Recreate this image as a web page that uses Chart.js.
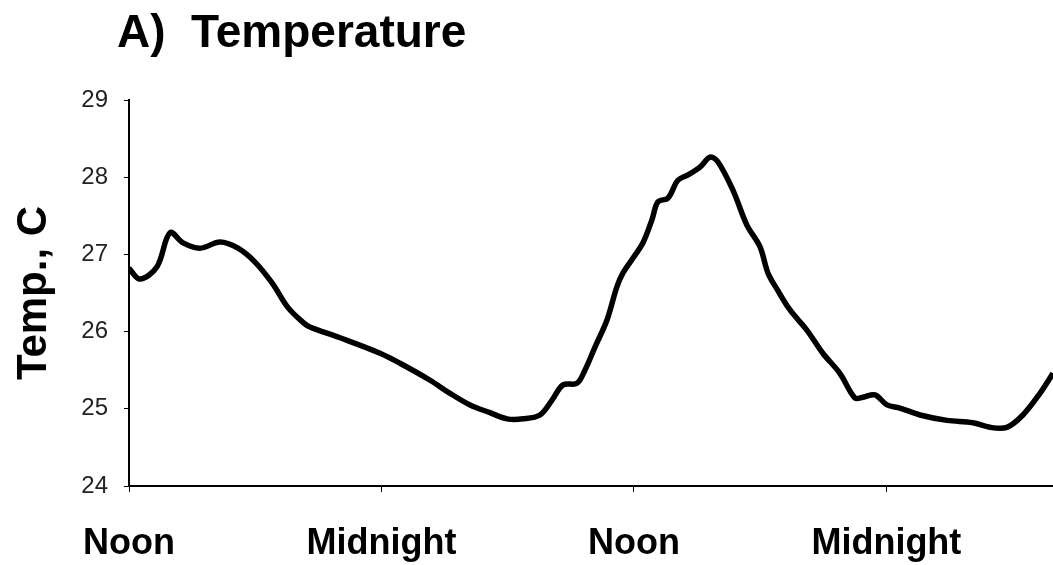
<!DOCTYPE html>
<html>
<head>
<meta charset="utf-8">
<script src="https://cdn.jsdelivr.net/npm/chart.js@4/dist/chart.umd.min.js"></script>
<style>
  html, body { margin: 0; padding: 0; background: #fff; }
  #wrap { width: 1053px; height: 565px; }
</style>
</head>
<body>
<div id="wrap"><canvas id="c" width="1053" height="565"></canvas></div>
<script>
// Hours elapsed since the first noon, and water temperature (°C) at each time
const hours = [0, 0.52, 1.33, 1.95, 2.57, 3.37, 4.33, 5.18, 5.99, 6.80, 7.56, 8.27, 8.60,
  10.03, 11.93, 12.88, 14.31, 15.26, 16.21, 17.16, 17.97, 18.73, 19.53, 20.10, 20.63,
  21.29, 21.67, 22.15, 22.72, 23.19, 23.48, 23.95, 24.43, 24.86, 25.14, 25.62, 26.09,
  26.57, 27.14, 27.62, 27.99, 28.71, 29.37, 29.99, 30.37, 30.80, 31.42, 32.22, 32.98,
  33.79, 34.51, 34.89, 35.46, 36.03, 36.64, 37.60, 38.88, 40.11, 40.92, 41.73, 42.49,
  43.30, 43.92];
const temps = [26.82, 26.68, 26.84, 27.28, 27.15, 27.08, 27.16, 27.08, 26.90, 26.63, 26.31, 26.12, 26.06,
  25.92, 25.72, 25.59, 25.37, 25.20, 25.05, 24.95, 24.87, 24.87, 24.92, 25.11, 25.31,
  25.33, 25.50, 25.80, 26.15, 26.58, 26.76, 26.95, 27.15, 27.45, 27.68, 27.73, 27.96,
  28.03, 28.13, 28.26, 28.20, 27.83, 27.38, 27.10, 26.76, 26.55, 26.28, 26.02, 25.72,
  25.46, 25.14, 25.15, 25.18, 25.05, 25.01, 24.92, 24.85, 24.82, 24.76, 24.76, 24.92,
  25.20, 25.46];

// Time-of-day ticks on the x axis
const tickHours = [0, 12, 24, 36];
const tickLabels = ['Noon', 'Midnight', 'Noon', 'Midnight'];

const chartTitle = 'A)  Temperature';
const yTitle = 'Temp., C';

const FONT = '"Liberation Sans", Arial, Helvetica, sans-serif';

// Panel heading drawn at the top-left of the canvas
const panelTitle = {
  id: 'panelTitle',
  afterDraw(chart) {
    const ctx = chart.ctx;
    ctx.save();
    ctx.fillStyle = '#000';
    ctx.font = 'bold 46px ' + FONT;
    ctx.textAlign = 'left';
    ctx.textBaseline = 'alphabetic';
    ctx.fillText(chartTitle, 117, 47);
    ctx.restore();
  }
};

new Chart(document.getElementById('c'), {
  type: 'line',
  data: {
    datasets: [{
      data: hours.map((h, i) => ({ x: h, y: temps[i] })),
      borderColor: '#000',
      borderWidth: 5.5,
      pointRadius: 0,
      tension: 0.35,
      fill: false
    }]
  },
  options: {
    responsive: false,
    animation: false,
    layout: { padding: { top: 100, left: 0, right: 0, bottom: 0 } },
    plugins: {
      legend: { display: false },
      tooltip: { enabled: false },
      title: { display: false }
    },
    scales: {
      x: {
        type: 'linear',
        min: 0,
        max: 43.92,
        afterBuildTicks: (axis) => { axis.ticks = tickHours.map(v => ({ value: v })); },
        afterFit: (axis) => { axis.height = 79; },
        ticks: {
          autoSkip: false,
          maxRotation: 0,
          padding: 30,
          color: '#000',
          font: { family: FONT, size: 36, weight: 'bold' },
          callback: (value, index) => tickLabels[index]
        },
        grid: { drawOnChartArea: false, drawTicks: true, tickLength: 6, color: '#000', lineWidth: 1 },
        border: { color: '#000', width: 2 }
      },
      y: {
        min: 24,
        max: 29,
        afterFit: (axis) => { axis.width = 129; },
        ticks: {
          stepSize: 1,
          padding: 16,
          color: '#222',
          font: { family: FONT, size: 24 }
        },
        title: {
          display: true,
          text: yTitle,
          color: '#000',
          padding: { top: 9, bottom: 0 },
          font: { family: FONT, size: 42, weight: 'bold' }
        },
        grid: { drawOnChartArea: false, drawTicks: true, tickLength: 5, color: '#000', lineWidth: 1 },
        border: { color: '#000', width: 2 }
      }
    }
  },
  plugins: [panelTitle]
});
</script>
</body>
</html>
